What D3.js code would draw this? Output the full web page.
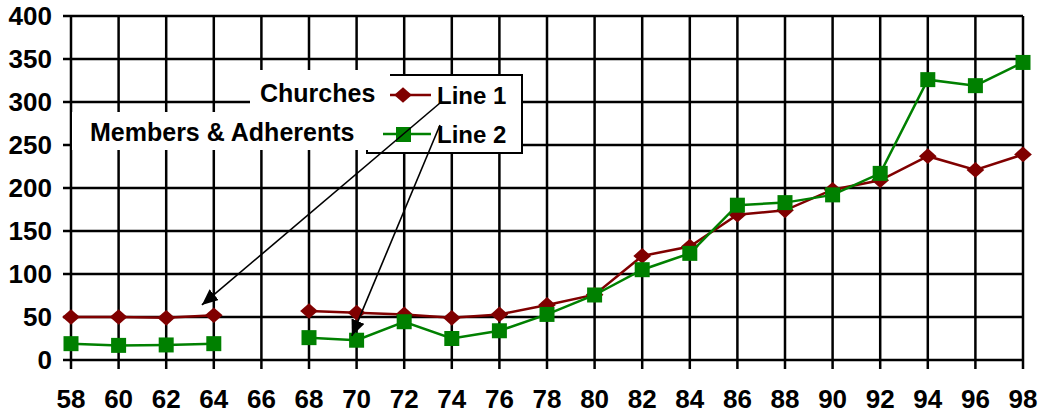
<!DOCTYPE html>
<html><head><meta charset="utf-8">
<script src="https://cdn.jsdelivr.net/npm/d3@7"></script>
<style>
html,body{margin:0;padding:0;background:#fff;}
svg{display:block;font-family:"Liberation Sans",Arial,sans-serif;font-weight:bold;}
</style></head>
<body><svg id="c" width="1039" height="414"></svg>
<script>
const years = [58,60,62,64,66,68,70,72,74,76,78,80,82,84,86,88,90,92,94,96,98];
const churches = [50,50,49,52,null,57,55,53,49,53,64,76,121,132,169,174,198,209,237,221,239];
const members = [19,17,17.5,19,null,26,23,44.5,25,34,53,75.6,105,124,180,183,192,217,326,319,346];
const yTicks = [0,50,100,150,200,250,300,350,400];
const seriesNames = ["Line 1","Line 2"];
const labelNames = ["Churches","Members & Adherents"];

const svg = d3.select("#c");
const x = d3.scaleLinear().domain([58,98]).range([71,1023]);
const y = d3.scaleLinear().domain([0,400]).range([360,16]);

// grid
const g = svg.append("g");
g.selectAll("line.h").data(yTicks).join("line")
  .attr("x1",63).attr("x2",x(98)).attr("y1",d=>y(d)).attr("y2",d=>y(d))
  .attr("stroke","#000").attr("stroke-width",2.5);
g.selectAll("line.v").data(years).join("line").attr("class","v")
  .attr("x1",d=>x(d)).attr("x2",d=>x(d)).attr("y1",y(400)).attr("y2",369)
  .attr("stroke","#000").attr("stroke-width",2.5);

// tick labels
svg.append("g").selectAll("text").data(yTicks).join("text")
  .attr("x",52).attr("y",d=>y(d)).attr("dy","0.36em").attr("text-anchor","end")
  .attr("font-size",26).text(d=>d);
svg.append("g").selectAll("text").data(years).join("text")
  .attr("x",d=>x(d)).attr("y",399).attr("dy","0.36em").attr("text-anchor","middle")
  .attr("font-size",26).text(d=>d);

// series
const line = d3.line().defined(d=>d[1]!=null).x(d=>x(d[0])).y(d=>y(d[1]));
const s1 = years.map((v,i)=>[v,churches[i]]);
const s2 = years.map((v,i)=>[v,members[i]]);
const wideDiamond = {draw(ctx,size){const w=Math.sqrt(size)*0.7,h=Math.sqrt(size)*0.62;
  ctx.moveTo(0,-h);ctx.lineTo(w,0);ctx.lineTo(0,h);ctx.lineTo(-w,0);ctx.closePath();}};
const diamond = d3.symbol(wideDiamond,160)();
svg.append("path").attr("d",line(s1)).attr("fill","none").attr("stroke","#800000").attr("stroke-width",2.5);
svg.append("g").selectAll("path").data(s1.filter(d=>d[1]!=null)).join("path")
  .attr("d",diamond)
  .attr("transform",d=>`translate(${x(d[0])},${y(d[1])})`)
  .attr("fill","#800000");
svg.append("path").attr("d",line(s2)).attr("fill","none").attr("stroke","#008000").attr("stroke-width",2.5);
svg.append("g").selectAll("rect").data(s2.filter(d=>d[1]!=null)).join("rect")
  .attr("x",d=>x(d[0])-7.5).attr("y",d=>y(d[1])-7.5).attr("width",15).attr("height",15)
  .attr("fill","#008000");

// legend box
svg.append("rect").attr("x",367).attr("y",75).attr("width",155).attr("height",78)
  .attr("fill","#fff").attr("stroke","#000").attr("stroke-width",2);
svg.append("line").attr("x1",383).attr("x2",431).attr("y1",95).attr("y2",95).attr("stroke","#800000").attr("stroke-width",2.5);
svg.append("path").attr("d",diamond).attr("transform","translate(403,95)").attr("fill","#800000");
svg.append("line").attr("x1",383).attr("x2",431).attr("y1",134).attr("y2",134).attr("stroke","#008000").attr("stroke-width",2.5);
svg.append("rect").attr("x",396).attr("y",127).attr("width",15).attr("height",15).attr("fill","#008000");
svg.append("text").attr("x",437).attr("y",104).attr("font-size",24).text(seriesNames[0]);
svg.append("text").attr("x",437).attr("y",143).attr("font-size",24).text(seriesNames[1]);

// label boxes
svg.append("rect").attr("x",250).attr("y",70).attr("width",140).attr("height",42).attr("fill","#fff");
svg.append("text").attr("x",260).attr("y",102).attr("font-size",25).text(labelNames[0]);
svg.append("rect").attr("x",72).attr("y",112).attr("width",311).attr("height",38).attr("fill","#fff");
svg.append("text").attr("x",90).attr("y",141).attr("font-size",25).text(labelNames[1]);

// arrows
const defs = svg.append("defs");
defs.append("marker").attr("id","ah").attr("viewBox","0 0 10 10").attr("refX",10).attr("refY",5)
  .attr("markerWidth",16).attr("markerHeight",14).attr("markerUnits","userSpaceOnUse").attr("orient","auto")
  .attr("preserveAspectRatio","none")
  .append("path").attr("d","M0,0 L10,5 L0,10 z").attr("fill","#000");
const arrows = [
  {from:[440,103], to:[x(63.5),y(64)]},
  {from:[440,125], to:[x(69.8),y(28)]}
];
svg.append("g").selectAll("line").data(arrows).join("line")
  .attr("x1",d=>d.from[0]).attr("y1",d=>d.from[1]).attr("x2",d=>d.to[0]).attr("y2",d=>d.to[1])
  .attr("stroke","#000").attr("stroke-width",1.6).attr("marker-end","url(#ah)");
</script></body></html>
